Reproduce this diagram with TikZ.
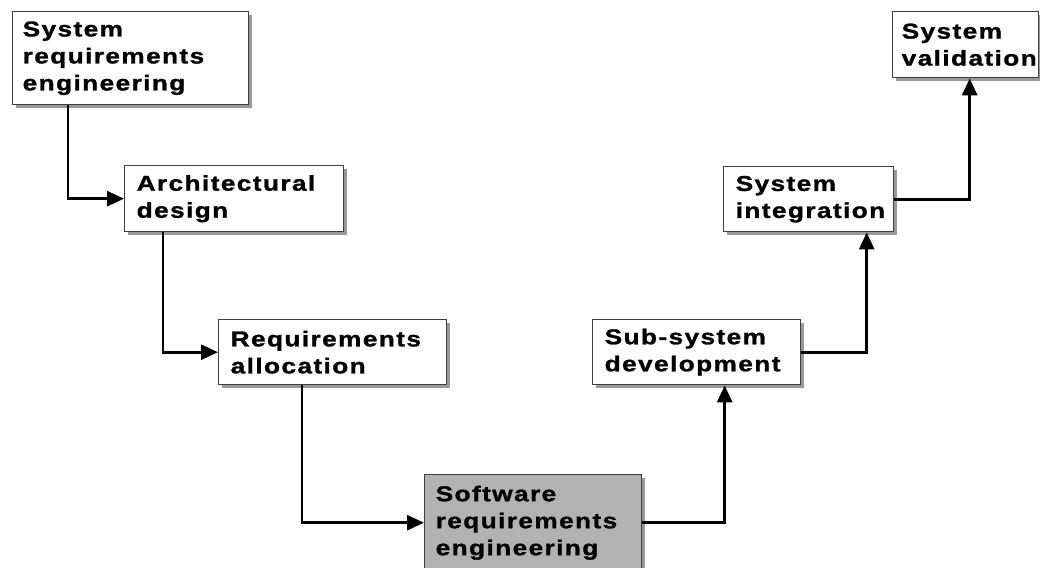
\documentclass[tikz,border=0pt]{standalone}
\usepackage{fontspec}
\setmainfont{Liberation Sans}[BoldFont={Liberation Sans Bold},BoldFeatures={FakeStretch=1.22,LetterSpace=6.5,FakeBold=1.2}]
\usetikzlibrary{arrows.meta,shadows}
\hfuzz=40pt
\begin{document}
\begin{tikzpicture}[x=1pt,y=-1pt,
  stage/.style={draw=black!75, line width=1.4pt, fill=white, anchor=north west,
    inner xsep=12pt, inner ysep=0pt, align=left,
    font=\fontsize{21.5}{27}\selectfont\bfseries,
    drop shadow={shadow xshift=3pt, shadow yshift=-3pt, fill=black!40, opacity=1}},
  current/.style={stage, fill=black!30},
  flow/.style={line width=2.8pt, draw=black, -{Triangle[length=17pt,width=15pt]}}]
  \useasboundingbox (0,0) rectangle (1040,567);
  \clip (0,0) rectangle (1040,567);

  % requirements side, going down
  \node[stage, inner xsep=10pt, text width=216pt, minimum height=93pt] (sre) at (12,11)
    {System\\requirements\\engineering};
  \node[stage, text width=195pt, minimum height=66pt] (arch) at (124,165)
    {Architectural\\design};
  \node[stage, text width=204pt, minimum height=65pt] (alloc) at (218,319)
    {Requirements\\allocation};
  \node[current, inner xsep=11pt, text width=195pt, minimum height=96pt] (swre) at (424,474)
    {Software\\requirements\\engineering};

  % integration side, going up
  \node[stage, text width=184pt, minimum height=65pt] (sub) at (592,319)
    {Sub-system\\development};
  \node[stage, text width=146pt, minimum height=65pt] (integ) at (723,166)
    {System\\integration};
  \node[stage, inner xsep=9pt, text width=128pt, minimum height=66pt,
    font=\fontsize{21.5}{27}\selectfont\bfseries\addfontfeatures{LetterSpace=4}] (valid) at (892,11)
    {System\\validation};

  % connectors
  \draw[flow] (sre.south west) ++(56,0) |- (arch.west);
  \draw[flow] (arch.south west) ++(39,0) |- (alloc.west);
  \draw[flow] (alloc.south west) ++(84,0) |- (swre.west);
  \draw[flow] (swre.east) -| ([xshift=28pt]sub.south);
  \draw[flow] (sub.east) -| ([xshift=58pt]integ.south);
  \draw[flow] (integ.east) -| ([xshift=4pt]valid.south);
\end{tikzpicture}
\end{document}
